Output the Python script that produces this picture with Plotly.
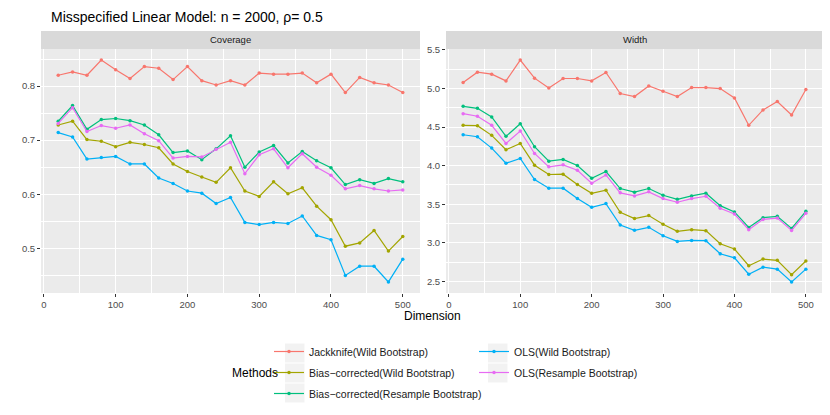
import plotly.graph_objects as go

dims = list(range(20, 501, 20))

methods = [
    "Jackknife(Wild Bootstrap)",
    "Bias−corrected(Wild Bootstrap)",
    "Bias−corrected(Resample Bootstrap)",
    "OLS(Wild Bootstrap)",
    "OLS(Resample Bootstrap)",
]
colors = ["#F8766D", "#A3A500", "#00BF7D", "#00B0F6", "#E76BF3"]
legend_rank = [1, 2, 3, 4, 5]
legend_id = ["legend", "legend", "legend", "legend2", "legend2"]

cov_jack = [0.820, 0.826, 0.820, 0.848, 0.830, 0.814, 0.836, 0.833, 0.812, 0.836,
            0.810, 0.802, 0.810, 0.802, 0.824, 0.822, 0.822, 0.824, 0.806, 0.822,
            0.788, 0.816, 0.806, 0.802, 0.788]
cov_bias_wild = [0.728, 0.735, 0.701, 0.698, 0.688, 0.696, 0.692, 0.686, 0.656, 0.642,
                 0.632, 0.622, 0.649, 0.606, 0.596, 0.623, 0.601, 0.612, 0.578, 0.553,
                 0.504, 0.510, 0.533, 0.495, 0.522]
cov_bias_res = [0.735, 0.764, 0.720, 0.738, 0.740, 0.736, 0.728, 0.710, 0.677, 0.680,
                0.664, 0.684, 0.708, 0.650, 0.678, 0.690, 0.658, 0.679, 0.662, 0.649,
                0.618, 0.627, 0.620, 0.629, 0.623]
cov_ols_wild = [0.714, 0.706, 0.665, 0.668, 0.670, 0.656, 0.656, 0.630, 0.620, 0.606,
                0.602, 0.583, 0.594, 0.548, 0.544, 0.548, 0.546, 0.560, 0.524, 0.516,
                0.450, 0.467, 0.467, 0.438, 0.480]
cov_ols_res = [0.731, 0.760, 0.716, 0.727, 0.722, 0.728, 0.712, 0.699, 0.667, 0.670,
               0.669, 0.683, 0.696, 0.638, 0.673, 0.684, 0.649, 0.675, 0.650, 0.635,
               0.610, 0.616, 0.610, 0.606, 0.608]

wid_jack = [5.076, 5.210, 5.184, 5.097, 5.366, 5.132, 5.006, 5.128, 5.128, 5.097,
            5.206, 4.933, 4.894, 5.032, 4.963, 4.894, 5.011, 5.011, 4.998, 4.877,
            4.522, 4.721, 4.829, 4.656, 4.985]
wid_bias_wild = [4.522, 4.517, 4.392, 4.206, 4.288, 4.006, 3.886, 3.890, 3.756, 3.643,
                 3.682, 3.397, 3.315, 3.354, 3.242, 3.151, 3.172, 3.159, 2.990, 2.921,
                 2.705, 2.792, 2.775, 2.589, 2.766]
wid_bias_res = [4.768, 4.742, 4.630, 4.379, 4.543, 4.245, 4.058, 4.080, 4.002, 3.838,
                3.924, 3.704, 3.657, 3.704, 3.617, 3.565, 3.608, 3.643, 3.483, 3.401,
                3.201, 3.327, 3.344, 3.188, 3.409]
wid_ols_wild = [4.400, 4.374, 4.227, 4.032, 4.093, 3.821, 3.709, 3.709, 3.574, 3.461,
                3.509, 3.232, 3.163, 3.202, 3.094, 3.020, 3.033, 3.029, 2.860, 2.808,
                2.596, 2.687, 2.661, 2.496, 2.661]
wid_ols_res = [4.673, 4.639, 4.522, 4.288, 4.448, 4.158, 3.985, 4.011, 3.941, 3.772,
               3.880, 3.648, 3.609, 3.661, 3.574, 3.527, 3.574, 3.604, 3.448, 3.374,
               3.171, 3.305, 3.322, 3.162, 3.383]

coverage = [cov_jack, cov_bias_wild, cov_bias_res, cov_ols_wild, cov_ols_res]
width = [wid_jack, wid_bias_wild, wid_bias_res, wid_ols_wild, wid_ols_res]

panel_titles = ["Coverage", "Width"]
x_ticks = [0, 100, 200, 300, 400, 500]
cov_ticks = [0.5, 0.6, 0.7, 0.8]
wid_ticks = [2.5, 3.0, 3.5, 4.0, 4.5, 5.0, 5.5]

# page body adds an 8px margin; lay the figure out in window pixels
OX, OY = 8, 8
W, H = 830 - OX, 415 - OY
FONT = "Liberation Sans, Arial, sans-serif"

def px_x(p):
    return (p - OX) / W

def px_y(p):
    return 1 - (p - OY) / H

fig = go.Figure()

for i, m in enumerate(methods):
    fig.add_trace(go.Scatter(
        x=dims, y=coverage[i], mode="lines+markers", name=m,
        line=dict(color=colors[i], width=1.2), marker=dict(color=colors[i], size=3.5),
        legendgroup=m, legendrank=legend_rank[i], legend=legend_id[i],
        xaxis="x", yaxis="y", showlegend=True,
    ))
for i, m in enumerate(methods):
    fig.add_trace(go.Scatter(
        x=dims, y=width[i], mode="lines+markers", name=m,
        line=dict(color=colors[i], width=1.2), marker=dict(color=colors[i], size=3.5),
        legendgroup=m, legend=legend_id[i],
        xaxis="x2", yaxis="y2", showlegend=False,
    ))

panel_left = [41, 446]
panel_right = [420, 823]
plot_top, plot_bottom = 49, 293
strip_top = 31

axis_common = dict(
    showgrid=True, gridcolor="white", gridwidth=1.2,
    zeroline=False, showline=False,
    ticks="outside", ticklen=3, tickcolor="#333333", tickwidth=1,
    tickfont=dict(family=FONT, size=9.5, color="#4D4D4D"),
    automargin=False,
)

legend_common = dict(
    xanchor="left", yanchor="top", orientation="v", bgcolor="rgba(0,0,0,0)",
    font=dict(family=FONT, size=10.5, color="#1A1A1A"),
    tracegroupgap=2, itemclick=False, itemdoubleclick=False,
)

fig.update_layout(
    width=W, height=H,
    margin=dict(l=0, r=0, t=0, b=0),
    paper_bgcolor="white", plot_bgcolor="#EBEBEB",
    font=dict(family=FONT),
    xaxis=dict(domain=[px_x(panel_left[0]), px_x(panel_right[0])], range=[-4, 524],
               tickvals=x_ticks, anchor="y",
               minor=dict(dtick=50, tick0=0, showgrid=True, gridcolor="white", gridwidth=0.6, ticks=""),
               **axis_common),
    yaxis=dict(domain=[px_y(plot_bottom), px_y(plot_top)], range=[0.4175, 0.8685],
               tickvals=cov_ticks, tickformat=".1f", anchor="x",
               minor=dict(dtick=0.05, tick0=0, showgrid=True, gridcolor="white", gridwidth=0.6, ticks=""),
               **axis_common),
    xaxis2=dict(domain=[px_x(panel_left[1]), px_x(panel_right[1])], range=[-4, 524],
                tickvals=x_ticks, anchor="y2",
                minor=dict(dtick=50, tick0=0, showgrid=True, gridcolor="white", gridwidth=0.6, ticks=""),
                **axis_common),
    yaxis2=dict(domain=[px_y(plot_bottom), px_y(plot_top)], range=[2.3525, 5.5095],
                tickvals=wid_ticks, tickformat=".1f", anchor="x2",
                minor=dict(dtick=0.25, tick0=0, showgrid=True, gridcolor="white", gridwidth=0.6, ticks=""),
                **axis_common),
    legend=dict(x=px_x(269), y=px_y(337), **legend_common),
    legend2=dict(x=px_x(474), y=px_y(337), **legend_common),
    showlegend=True,
)

shapes = []
annotations = []
for k in range(2):
    shapes.append(dict(type="rect", xref="paper", yref="paper",
                       x0=px_x(panel_left[k]), x1=px_x(panel_right[k]),
                       y0=px_y(plot_top), y1=px_y(strip_top),
                       fillcolor="#D9D9D9", line=dict(width=0), layer="below"))
    annotations.append(dict(text=panel_titles[k], xref="paper", yref="paper",
                            x=px_x((panel_left[k] + panel_right[k]) / 2),
                            y=px_y((plot_top + strip_top) / 2),
                            xanchor="center", yanchor="middle", showarrow=False,
                            font=dict(family=FONT, size=9.5, color="#1A1A1A")))

# grey legend key backgrounds
for (bx, nrows) in [(285, 3), (488, 2)]:
    for r in range(nrows):
        shapes.append(dict(type="rect", xref="paper", yref="paper",
                           x0=px_x(bx), x1=px_x(bx + 19.5),
                           y0=px_y(343 + 20 * (r + 1) - 0.5), y1=px_y(343 + 20 * r + 0.5),
                           fillcolor="#F2F2F2", line=dict(width=0), layer="below"))

annotations.append(dict(text="Misspecified Linear Model: n = 2000, ρ= 0.5",
                        xref="paper", yref="paper", x=px_x(187), y=px_y(17),
                        xanchor="center", yanchor="middle", showarrow=False,
                        font=dict(family=FONT, size=14, color="black")))
annotations.append(dict(text="Dimension", xref="paper", yref="paper",
                        x=px_x(432), y=px_y(316), xanchor="center", yanchor="middle",
                        showarrow=False, font=dict(family=FONT, size=12, color="black")))
annotations.append(dict(text="Methods", xref="paper", yref="paper",
                        x=px_x(230), y=px_y(373), xanchor="left", yanchor="middle",
                        showarrow=False, font=dict(family=FONT, size=12, color="black")))

fig.update_layout(shapes=shapes, annotations=annotations)

fig.write_html("out.html")
